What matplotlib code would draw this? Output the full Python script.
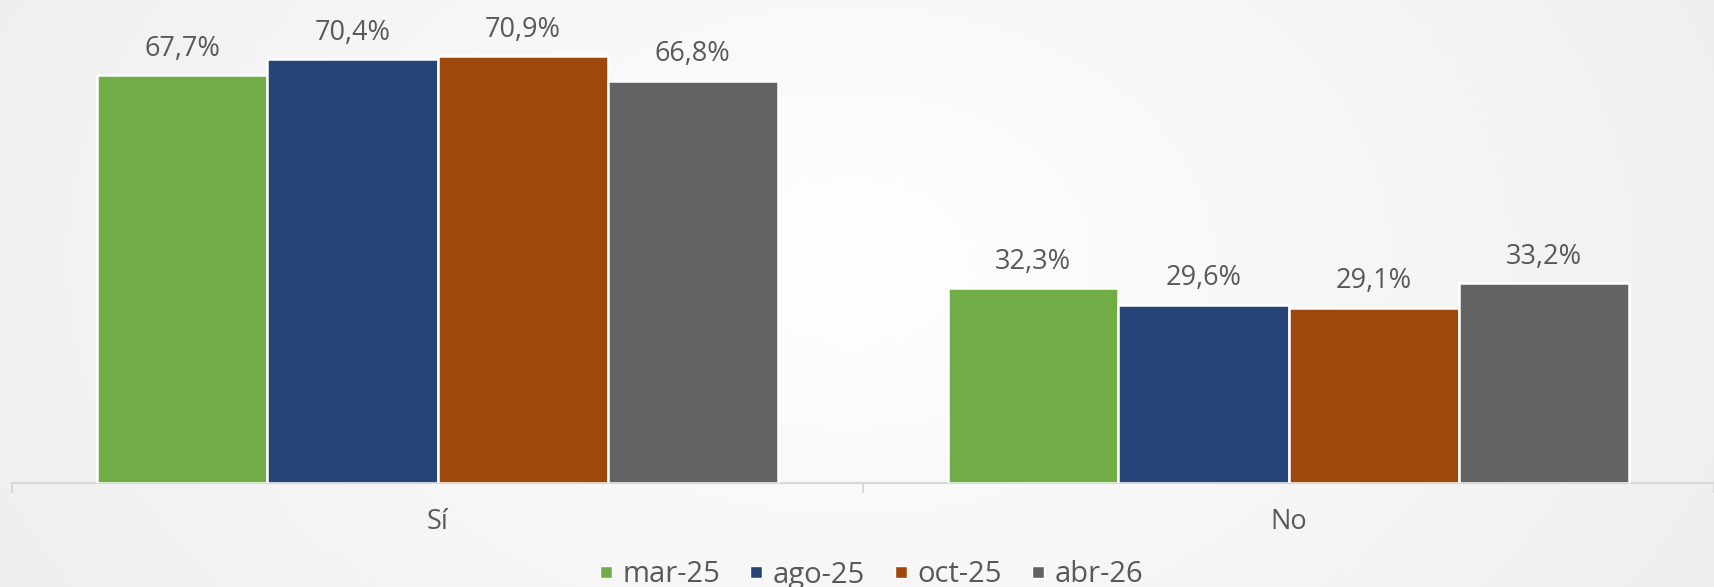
import numpy as np
import matplotlib
matplotlib.use("Agg")
import matplotlib.pyplot as plt
from matplotlib.lines import Line2D

# datos
categorias = ["Sí", "No"]
periodos = ["mar-25", "ago-25", "oct-25", "abr-26"]
mar25 = [67.7, 32.3]
ago25 = [70.4, 29.6]
oct25 = [70.9, 29.1]
abr26 = [66.8, 33.2]
series = [mar25, ago25, oct25, abr26]
colores = ["#70AD47", "#264478", "#9E480E", "#636363"]

plt.rcParams['font.family'] = ["Open Sans", "DejaVu Sans"]
texto = "#595959"

W, H = 1714, 587
fig = plt.figure(figsize=(W / 100, H / 100), dpi=100)

# fondo con degradado radial
bg = fig.add_axes([0, 0, 1, 1], zorder=-10)
yy, xx = np.mgrid[0:H, 0:W]
r = np.sqrt(((xx - 850) / 1000) ** 2 + ((yy - 260) / 700) ** 2)
v = 1.0 - 0.065 * np.clip(r, 0, 1)
bg.imshow(np.dstack([v, v, v]), aspect="auto", extent=[0, 1, 0, 1])
bg.axis("off")

ax = fig.add_axes([12 / W, 1 - 483 / H, 1 - 12 / W, 483 / H])
ax.patch.set_alpha(0)

x = np.arange(len(categorias))
ancho = 0.2
for i, (vals, col) in enumerate(zip(series, colores)):
    pos = x + (i - 1.5) * ancho
    barras = ax.bar(pos, vals, width=ancho, color=col, edgecolor="white",
                    linewidth=1.8, label=periodos[i], zorder=3)
    for b, v_ in zip(barras, vals):
        ax.annotate(f"{v_:.1f}%".replace(".", ","),
                    (b.get_x() + b.get_width() / 2, v_),
                    xytext=(0, 14), textcoords="offset points",
                    ha="center", va="baseline", fontsize=19.5, color=texto)

ax.set_xlim(-0.5, 1.5 - 12 / 857)
ax.set_ylim(0, 80.2)
ax.set_yticks([])
for s in ["top", "right", "left"]:
    ax.spines[s].set_visible(False)
ax.spines["bottom"].set_color("#d9d9d9")
ax.spines["bottom"].set_linewidth(1.5)

ax.set_xticks([-0.5, 0.5, 1.5])
ax.set_xticklabels([])
ax.tick_params(axis="x", length=7, width=1.5, color="#d9d9d9")

# etiquetas de categoría
for xi, cat in zip(x, categorias):
    ax.annotate(cat, (xi, 0), xycoords=("data", "axes fraction"),
                xytext=(0, -33), textcoords="offset points",
                ha="center", va="baseline", fontsize=19.5, color=texto)

handles = [Line2D([], [], marker="s", linestyle="none", markersize=8.5,
                  markerfacecolor=c, markeredgecolor="white") for c in colores]
fig.legend(handles, periodos, loc="center", bbox_to_anchor=(0.508, 1 - 575 / H),
           ncol=4, frameon=False, fontsize=21, labelcolor=texto,
           handlelength=0.5, handletextpad=0.3, columnspacing=1.0)

fig.savefig("out.png", dpi=100)
